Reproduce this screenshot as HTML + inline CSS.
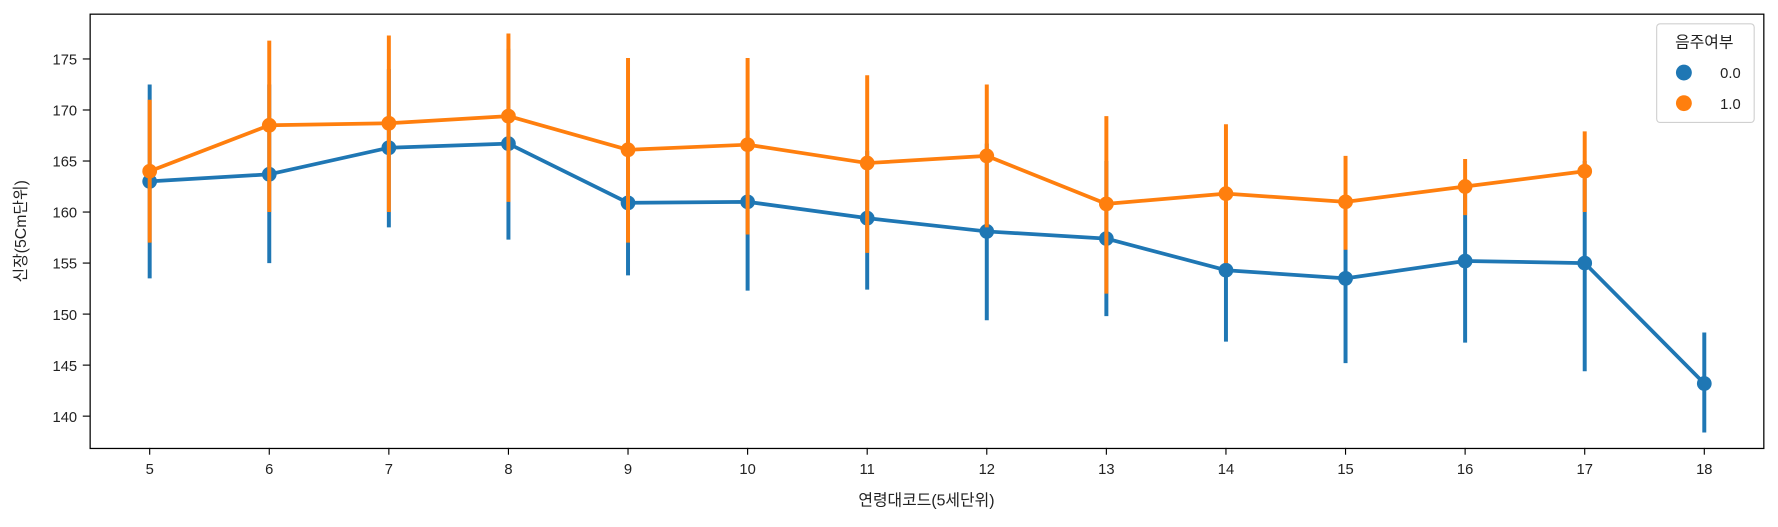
<!DOCTYPE html>
<html><head><meta charset="utf-8"><style>
body{margin:0;background:#fff;}
svg{display:block;}
svg text{font-family:"Liberation Sans","Noto Sans CJK KR",sans-serif;fill:#222;}
</style></head><body>
<svg id="chart" width="1778" height="527" viewBox="0 0 1568 464.76" preserveAspectRatio="none" xmlns="http://www.w3.org/2000/svg">
<rect x="0" y="0" width="1568" height="465" fill="#fff"/>
<g id="marks"></g>
<rect x="79.5" y="12.5" width="1476" height="383" fill="none" stroke="#000" stroke-width="1.1"/>
<g id="axes"></g>
<text x="817" y="446" font-size="14" text-anchor="middle">연령대코드(5세단위)</text>
<text transform="translate(23,204) rotate(-90)" font-size="14" text-anchor="middle">신장(5Cm단위)</text>
<g>
<rect x="1461" y="21" width="86" height="87" rx="3" fill="#fff" stroke="#ccc" opacity="0.9"/>
<text x="1503" y="42" font-size="14" text-anchor="middle">음주여부</text>
<circle cx="1485" cy="64" r="7" fill="#1f77b4"/>
<text x="1517" y="69" font-size="13">0.0</text>
<circle cx="1485" cy="91" r="7" fill="#ff7f0e"/>
<text x="1517" y="96" font-size="13">1.0</text>
</g>
</svg>
<script>
const categories=[5,6,7,8,9,10,11,12,13,14,15,16,17,18];
const blueMean=[163.0,163.7,166.3,166.7,160.9,161.0,159.4,158.1,157.4,154.3,153.5,155.2,155.0,143.2];
const blueLow=[153.5,155.0,158.5,157.3,153.8,152.3,152.4,149.4,149.8,147.3,145.2,147.2,144.4,138.4];
const blueHigh=[172.5,172.5,174.0,176.0,167.0,168.0,166.0,166.7,165.0,161.0,161.5,163.0,165.0,148.2];
const orangeMean=[164.0,168.5,168.7,169.4,166.1,166.6,164.8,165.5,160.8,161.8,161.0,162.5,164.0];
const orangeLow=[157.0,160.0,160.0,161.0,157.0,157.8,156.0,158.5,152.0,155.0,156.3,159.7,160.0];
const orangeHigh=[171.0,176.8,177.3,177.5,175.1,175.1,173.4,172.5,169.4,168.6,165.5,165.2,167.9];
const yTicks=[140,145,150,155,160,165,170,175];
const NS="http://www.w3.org/2000/svg";
function xs(i){return 132+i*(1503-132)/13;}
function ys(v){return 52+(175-v)*9;}
function mk(tag,attrs,parent){const e=document.createElementNS(NS,tag);for(const k in attrs)e.setAttribute(k,attrs[k]);parent.appendChild(e);return e;}
const marks=document.getElementById('marks'),axes=document.getElementById('axes');
function series(mean,low,high,color,name){
  for(let i=0;i<mean.length;i++){
    const l=mk('line',{x1:xs(i),x2:xs(i),y1:ys(low[i]),y2:ys(high[i]),stroke:color,'stroke-width':3.5},marks);
    
    
  }
  const p=mk('polyline',{points:mean.map((v,i)=>xs(i)+','+ys(v)).join(' '),fill:'none',stroke:color,'stroke-width':3.3,'stroke-linejoin':'round'},marks);
  
  
  for(let i=0;i<mean.length;i++){
    const c=mk('circle',{cx:xs(i),cy:ys(mean[i]),r:6.5,fill:color},marks);
    
    
  }
}
series(blueMean,blueLow,blueHigh,'#1f77b4','series-0');
series(orangeMean,orangeLow,orangeHigh,'#ff7f0e','series-1');
categories.forEach((c,i)=>{
  const t=mk('line',{x1:xs(i),x2:xs(i),y1:395,y2:401,stroke:'#000','stroke-width':1},axes);
  
  
  const tx=mk('text',{x:xs(i),y:418,'font-size':13,'text-anchor':'middle'},axes);
  tx.textContent=c;
  
  
});
yTicks.forEach(v=>{
  const t=mk('line',{x1:73,x2:79,y1:ys(v),y2:ys(v),stroke:'#000','stroke-width':1},axes);
  
  
  const tx=mk('text',{x:68,y:ys(v)+5,'font-size':13,'text-anchor':'end'},axes);
  tx.textContent=v;
  
  
});
</script>
</body></html>
